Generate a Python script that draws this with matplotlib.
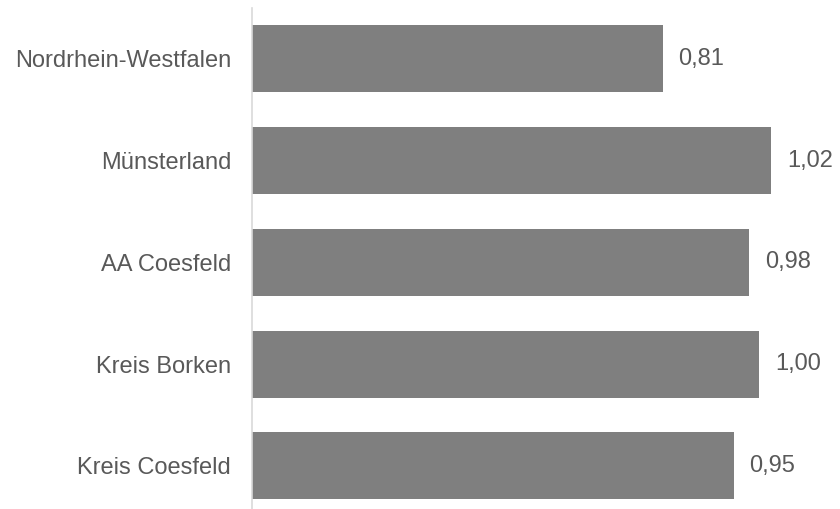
import matplotlib.pyplot as plt

# values
regions = ['Nordrhein-Westfalen', 'Münsterland', 'AA Coesfeld', 'Kreis Borken', 'Kreis Coesfeld']
values = [0.81, 1.024, 0.98, 1.00, 0.95]
value_labels = ['0,81', '1,02', '0,98', '1,00', '0,95']

plt.rcParams['font.family'] = ['Liberation Sans', 'DejaVu Sans']

fig = plt.figure(figsize=(8.4, 5.09), dpi=100)
ax = fig.add_axes([252 / 840, 0 / 509, 588 / 840, 501 / 509])

y = list(range(len(regions)))
ax.barh(y, values, height=0.66, color='#7f7f7f', zorder=2)

for yi, v, lab in zip(y, values, value_labels):
    ax.annotate(lab, (v, yi), xytext=(11.5, 0), textcoords='offset points',
                va='center', ha='left', fontsize=17, color='#595959')

ax.set_yticks(y)
ax.set_yticklabels(regions, fontsize=17, color='#595959')
ax.tick_params(axis='y', length=0, pad=15)
ax.set_xticks([])
ax.set_xlim(0, 1.16)
ax.set_ylim(4.424, -0.5)

for s in ['top', 'right', 'bottom']:
    ax.spines[s].set_visible(False)
ax.spines['left'].set_color('#d9d9d9')
ax.spines['left'].set_linewidth(1.2)

plt.savefig('out.png', dpi=100)
